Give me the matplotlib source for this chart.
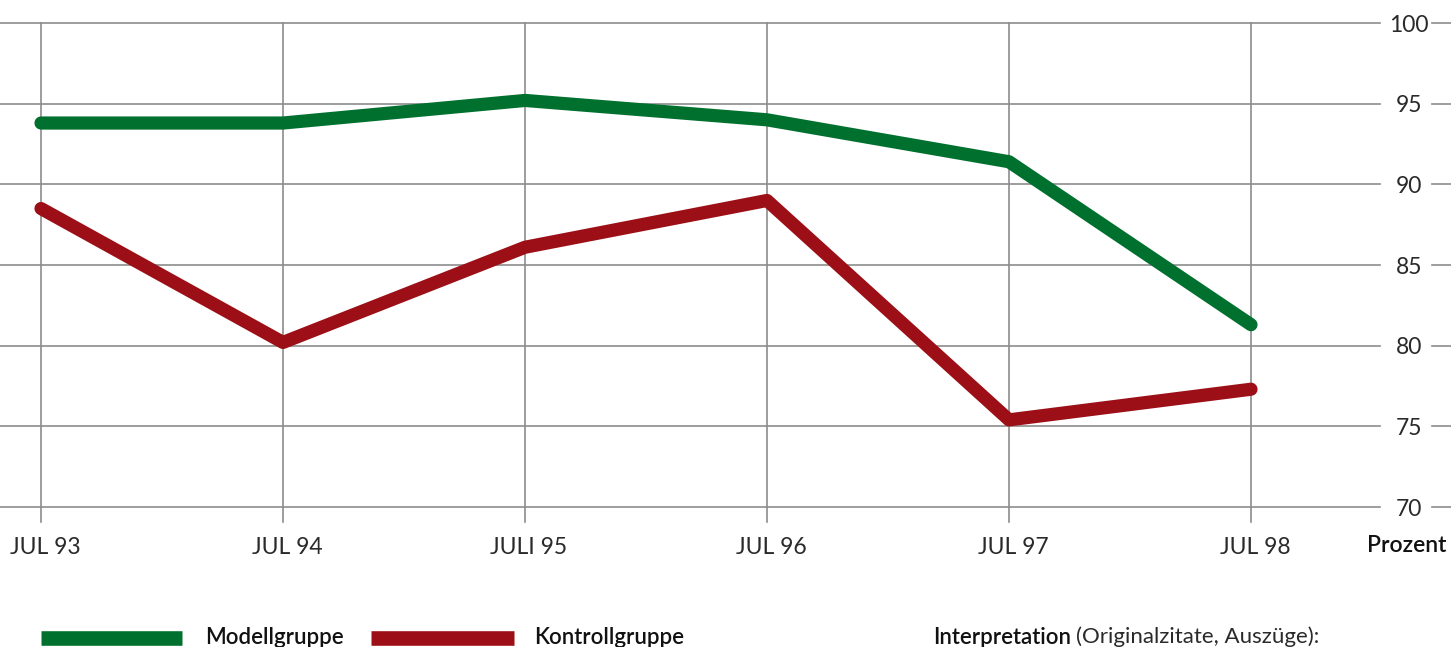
import matplotlib
matplotlib.use("Agg")
import matplotlib.pyplot as plt

categories = ["JUL 93", "JUL 94", "JULI 95", "JUL 96", "JUL 97", "JUL 98"]
modellgruppe = [93.8, 93.8, 95.2, 94.0, 91.4, 81.3]
kontrollgruppe = [88.5, 80.2, 86.1, 89.0, 75.4, 77.3]
y_ticks = [70, 75, 80, 85, 90, 95, 100]
y_tick_labels = ["70", "75", "80", "85", "90", "95", "100"]

GREEN = "#00702f"
RED = "#9c0f17"
GRID = "#8c8c8c"

plt.rcParams['font.family'] = ['Lato', 'DejaVu Sans']

W, H = 1451, 647
fig = plt.figure(figsize=(W / 100, H / 100), dpi=100)
ax = fig.add_axes([0, (H - 507) / H, 1, (507 - 23) / H])
ax.set_axis_off()

step = 242.0
x0 = 41.0
xl = -x0 / step
xr = (W - x0) / step
ax.set_xlim(xl, xr)
ax.set_ylim(70, 100)

xs = list(range(len(categories)))
gap_l = (1380 - x0) / step
gap_r = (1432 - x0) / step
ypx = (507 - 23) / 30.0

for yv, lab in zip(y_ticks, y_tick_labels):
    ax.plot([xl, gap_l], [yv, yv], color=GRID, lw=1.2, zorder=1, clip_on=False)
    ax.plot([gap_r, xr], [yv, yv], color=GRID, lw=1.2, zorder=1, clip_on=False)
    ax.text((1409 - x0) / step, yv - 2 / ypx, lab, ha="center", va="center",
            fontsize=16.5, fontweight="normal", color="#2a2a2a")

for x in xs:
    ax.plot([x, x], [100, 70 - 15 / ypx], color=GRID, lw=1.2, zorder=1, clip_on=False)
    ax.text(x + 4 / step, 70 - 40 / ypx, categories[x], ha="center", va="center",
            fontsize=16.5, fontweight="normal", color="#2a2a2a")

ax.text((1407 - x0) / step, 70 - 38 / ypx, "Prozent", ha="center", va="center",
        fontsize=16.5, fontweight="semibold", color="#111111")

ax.plot(xs, modellgruppe, color=GREEN, lw=9.5, solid_capstyle="round",
        solid_joinstyle="round", zorder=3)
ax.plot(xs, kontrollgruppe, color=RED, lw=9.5, solid_capstyle="round",
        solid_joinstyle="round", zorder=3)


def fx(px):
    return px / W


def fy(py):
    return 1 - py / H


fig.add_artist(plt.Line2D([fx(41), fx(182)], [fy(638), fy(638)], color=GREEN, lw=10.5,
                          solid_capstyle="butt"))
fig.text(fx(205), fy(637), "Modellgruppe", ha="left", va="center", fontsize=16,
         fontweight="semibold", color="#111111")
fig.add_artist(plt.Line2D([fx(371), fx(514)], [fy(638), fy(638)], color=RED, lw=10.5,
                          solid_capstyle="butt"))
fig.text(fx(534), fy(637), "Kontrollgruppe", ha="left", va="center", fontsize=16,
         fontweight="semibold", color="#111111")

t = fig.text(fx(933), fy(637), "Interpretation", ha="left", va="center", fontsize=16,
             fontweight="semibold", color="#111111")
fig.canvas.draw()
bb = t.get_window_extent()
fig.text(bb.x1 / W + 5 / W, fy(637), "(Originalzitate, Auszüge):", ha="left", va="center",
         fontsize=16, fontweight="normal", color="#2a2a2a")

fig.savefig("out.png", dpi=100)
